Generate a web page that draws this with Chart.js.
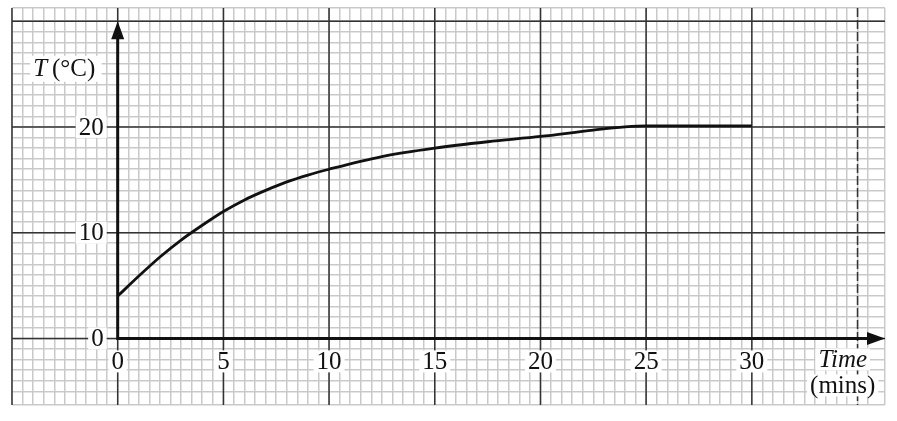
<!DOCTYPE html>
<html>
<head>
<meta charset="utf-8">
<script src="https://cdn.jsdelivr.net/npm/chart.js@4"></script>
<style>
  html, body { margin: 0; padding: 0; background: #fff; }
  #wrap { width: 897px; height: 421px; position: relative; }
</style>
</head>
<body>
<div id="wrap"><canvas id="myChart"></canvas></div>
<script>
// time (mins) and temperature readings
const times = [0, 1, 2, 3, 4, 5, 6, 7, 8, 9, 10, 12.5, 15, 17.5, 20, 22.5, 24, 25, 30];
const temps = [4, 5.9, 7.7, 9.3, 10.7, 12, 13.1, 14, 14.8, 15.45, 16, 17.2, 18, 18.6, 19.1, 19.7, 20, 20.1, 20.1];

const xTickValues = [0, 5, 10, 15, 20, 25, 30];
const xTickLabels = ['0', '5', '10', '15', '20', '25', '30'];
const yTickValues = [0, 10, 20];
const yTickLabels = ['0', '10', '20'];

const points = times.map(function(t, i) { return { x: t, y: temps[i] }; });

function isMajor(v, step) {
    return Math.abs(v / step - Math.round(v / step)) < 1e-6;
}

const labelFont = '25px "Liberation Serif", "DejaVu Serif", serif';
const italicFont = 'italic 25px "Liberation Serif", "DejaVu Serif", serif';

function boxedText(ctx, text, x, y, align, font) {
    ctx.font = font;
    const w = ctx.measureText(text).width;
    let left = x;
    if (align === 'center') left = x - w / 2;
    if (align === 'right') left = x - w;
    ctx.fillStyle = '#fff';
    ctx.fillRect(left - 3, y - 11, w + 6, 22);
    ctx.fillStyle = '#111';
    ctx.textAlign = align;
    ctx.textBaseline = 'middle';
    ctx.fillText(text, x, y + 1);
}

const paperPlugin = {
    id: 'paper',
    beforeDatasetsDraw(chart) {
        // heavy lines every 5 mins and every 10 degrees, on top of the fine grid
        const ctx = chart.ctx;
        const area = chart.chartArea;
        ctx.save();
        ctx.strokeStyle = '#333';
        ctx.lineWidth = 1.5;
        chart.scales.x.ticks.forEach(function(t) {
            if (!isMajor(t.value, 5)) return;
            const px = chart.scales.x.getPixelForValue(t.value);
            if (Math.abs(t.value - 35) < 1e-6) ctx.setLineDash([9, 3]);
            ctx.beginPath();
            ctx.moveTo(px, area.top);
            ctx.lineTo(px, area.bottom);
            ctx.stroke();
            ctx.setLineDash([]);
        });
        chart.scales.y.ticks.forEach(function(t) {
            if (!isMajor(t.value, 10)) return;
            const py = chart.scales.y.getPixelForValue(t.value);
            ctx.beginPath();
            ctx.moveTo(area.left, py);
            ctx.lineTo(area.right, py);
            ctx.stroke();
        });
        ctx.restore();
    },
    afterDatasetsDraw(chart) {
        const ctx = chart.ctx;
        const xs = chart.scales.x, ys = chart.scales.y;
        const x0 = xs.getPixelForValue(0), y0 = ys.getPixelForValue(0);
        ctx.save();

        // axes with arrows
        ctx.strokeStyle = '#111';
        ctx.fillStyle = '#111';
        ctx.lineWidth = 3;
        const yTip = ys.getPixelForValue(30);
        const xTip = xs.getPixelForValue(36.3);
        ctx.beginPath();
        ctx.moveTo(x0, y0 + 1.5);
        ctx.lineTo(x0, yTip + 10);
        ctx.moveTo(x0 - 1.5, y0);
        ctx.lineTo(xTip - 10, y0);
        ctx.stroke();
        ctx.beginPath();
        ctx.moveTo(x0, yTip);
        ctx.lineTo(x0 - 6.5, yTip + 18);
        ctx.lineTo(x0 + 6.5, yTip + 18);
        ctx.closePath();
        ctx.fill();
        ctx.beginPath();
        ctx.moveTo(xTip, y0);
        ctx.lineTo(xTip - 18, y0 - 6.5);
        ctx.lineTo(xTip - 18, y0 + 6.5);
        ctx.closePath();
        ctx.fill();

        // tick labels
        yTickValues.forEach(function(v, i) {
            boxedText(ctx, yTickLabels[i], x0 - 14, ys.getPixelForValue(v), 'right', labelFont);
        });
        xTickValues.forEach(function(v, i) {
            boxedText(ctx, xTickLabels[i], xs.getPixelForValue(v), y0 + 23, 'center', labelFont);
        });

        // axis titles
        const tx = xs.getPixelForValue(34.3);
        boxedText(ctx, 'Time', tx, y0 + 21, 'center', italicFont);
        boxedText(ctx, '(mins)', tx, y0 + 47, 'center', labelFont);

        const lx = xs.getPixelForValue(-4);
        const ly = ys.getPixelForValue(25.5);
        ctx.font = italicFont;
        const wT = ctx.measureText('T').width;
        ctx.font = labelFont;
        const wU = ctx.measureText(' (°C)').width;
        ctx.fillStyle = '#fff';
        ctx.fillRect(lx - 3, ly - 13, wT + wU + 8, 26);
        ctx.fillStyle = '#111';
        ctx.textAlign = 'left';
        ctx.textBaseline = 'middle';
        ctx.font = italicFont;
        ctx.fillText('T', lx, ly + 1);
        ctx.font = labelFont;
        ctx.fillText('(°C)', lx + wT + 5, ly + 1);

        ctx.restore();
    }
};

new Chart(document.getElementById('myChart').getContext('2d'), {
    type: 'line',
    data: {
        datasets: [{
            data: points,
            borderColor: '#111',
            borderWidth: 2.8,
            pointRadius: 0,
            fill: false,
            cubicInterpolationMode: 'monotone'
        }]
    },
    options: {
        responsive: true,
        maintainAspectRatio: false,
        animation: false,
        layout: { padding: { left: 12, right: 12, top: 8, bottom: 16 } },
        plugins: { legend: { display: false }, tooltip: { enabled: false } },
        scales: {
            x: {
                type: 'linear',
                min: -5,
                max: 36.3,
                ticks: { display: false, stepSize: 0.5, maxTicksLimit: 1000, autoSkip: false },
                border: { display: false },
                grid: { drawTicks: false, color: '#c9c9c9', lineWidth: 1.5 }
            },
            y: {
                type: 'linear',
                min: -6.3,
                max: 31.25,
                ticks: { display: false, stepSize: 1, maxTicksLimit: 1000, autoSkip: false },
                border: { display: false },
                grid: { drawTicks: false, color: '#c9c9c9', lineWidth: 1.5 }
            }
        }
    },
    plugins: [paperPlugin]
});
</script>
</body>
</html>
